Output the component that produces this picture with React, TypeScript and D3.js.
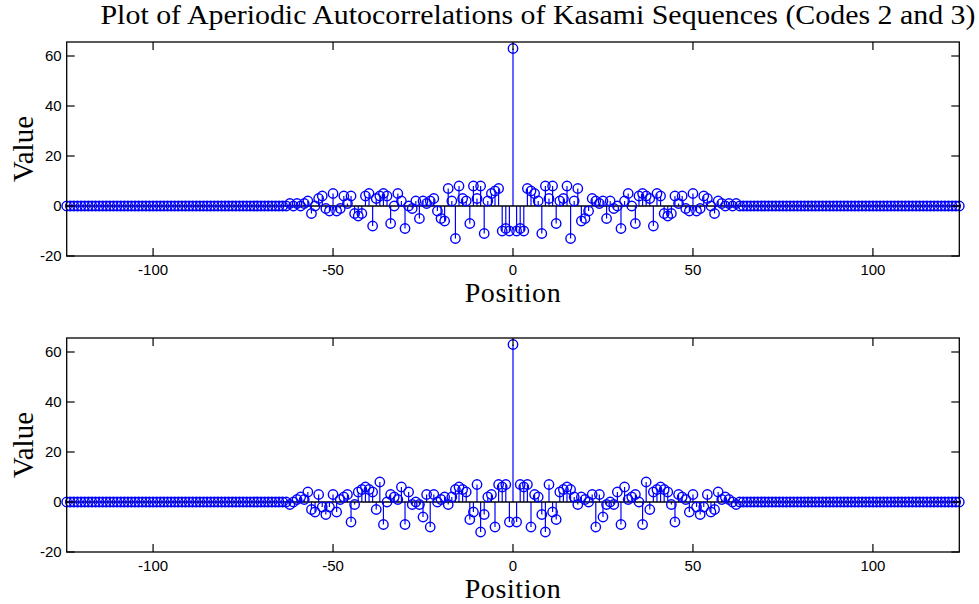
import React from "react";
import { scaleLinear, range } from "d3";

// figure size
const width = 979;
const height = 604;

// autocorrelation values for positive lags 1..62 (symmetric about lag 0)
const peakValue = 63;
const code2Lags = [
  -10, -9, -10, 7, 6, 5, 2, -11, 8, 3, 8, -7, 2, 3, 8, -13, 2, 7, -6, -5,
  -2, 3, 2, 1, 2, -5, 2, -1, 0, -9, 2, 5, 0, -7, 4, 5, 4, 3, -8, 5,
  4, -3, -4, -3, 4, 1, 4, -1, -2, 5, -2, -1, 4, 3, 0, -3, 2, 1, 0, 1,
  0, 1,
];
const code3Lags = [
  -8, 7, 6, 7, -10, 3, 2, -5, -12, 7, -4, -7, 4, 5, 6, 5, 2, -1, 2, 1,
  0, 3, -10, 3, -6, -1, 0, -1, 4, -9, 6, 1, 2, 3, 0, -9, 8, -3, 4, 5,
  6, 5, 4, -1, -8, 3, 2, 1, -4, 3, -2, -5, -2, 3, -4, -3, 4, 1, 2, 1,
  0, -1,
];

const xTicks = [-100, -50, 0, 50, 100];
const yTicks = [-20, 0, 20, 40, 60];
const xDomain = [-124, 124];
const yDomain = [-20, 65.6];

const title =
  "Plot of Aperiodic Autocorrelations of Kasami Sequences (Codes 2 and 3)";

// build full lag series -124..124 (zero outside the sequence length)
const buildSeries = (lags: number[]) =>
  range(xDomain[0], xDomain[1] + 1).map((k) => {
    const a = Math.abs(k);
    const v = a === 0 ? peakValue : a <= lags.length ? lags[a - 1] : 0;
    return { k, v };
  });

const panels = [
  { data: buildSeries(code2Lags), top: 42, bottom: 256 },
  { data: buildSeries(code3Lags), top: 338, bottom: 552 },
];

const left = 66.7;
const right = 959.3;
const tickLen = 8;
const blue = "#0000ff";
const sans = "'Liberation Sans', Arial, sans-serif";
const serif = "'Liberation Serif', 'Times New Roman', serif";

const StemPanel = ({ data, top, bottom }) => {
  const x = scaleLinear().domain(xDomain).range([left, right]);
  const y = scaleLinear().domain(yDomain).range([bottom, top]);
  const y0 = y(0);
  return (
    <g>
      {/* stems */}
      {data.map((d) => (
        <line
          key={"s" + d.k}
          x1={x(d.k)}
          x2={x(d.k)}
          y1={y0}
          y2={y(d.v)}
          stroke={blue}
          strokeWidth={1.2}
        />
      ))}
      {/* baseline */}
      <line x1={left} x2={right} y1={y0} y2={y0} stroke="#000" strokeWidth={1.6} />
      {/* markers */}
      {data.map((d) => (
        <circle
          key={"c" + d.k}
          cx={x(d.k)}
          cy={y(d.v)}
          r={4.7}
          fill="none"
          stroke={blue}
          strokeWidth={1.4}
        />
      ))}
      {/* box */}
      <rect
        x={left}
        y={top}
        width={right - left}
        height={bottom - top}
        fill="none"
        stroke="#000"
        strokeWidth={1.3}
      />
      {/* x ticks */}
      {xTicks.map((t) => (
        <g key={"x" + t}>
          <line x1={x(t)} x2={x(t)} y1={bottom} y2={bottom - tickLen} stroke="#000" strokeWidth={1.2} />
          <line x1={x(t)} x2={x(t)} y1={top} y2={top + tickLen} stroke="#000" strokeWidth={1.2} />
          <text
            x={x(t)}
            y={bottom + 19}
            textAnchor="middle"
            fontFamily={sans}
            fontSize={15}
          >
            {t}
          </text>
        </g>
      ))}
      {/* y ticks */}
      {yTicks.map((t) => (
        <g key={"y" + t}>
          <line x1={left} x2={left + tickLen} y1={y(t)} y2={y(t)} stroke="#000" strokeWidth={1.2} />
          <line x1={right} x2={right - tickLen} y1={y(t)} y2={y(t)} stroke="#000" strokeWidth={1.2} />
          <text
            x={left - 5}
            y={y(t)}
            dy="0.36em"
            textAnchor="end"
            fontFamily={sans}
            fontSize={15}
          >
            {t}
          </text>
        </g>
      ))}
      <text
        x={(left + right) / 2}
        y={bottom + 46}
        textAnchor="middle"
        fontFamily={serif}
        fontSize={28}
        letterSpacing={0.6}
      >
        Position
      </text>
      <text
        transform={`translate(${33},${(top + bottom) / 2}) rotate(-90)`}
        textAnchor="middle"
        fontFamily={serif}
        fontSize={29}
      >
        Value
      </text>
    </g>
  );
};

export default function App() {
  return (
    <svg
      width={width}
      height={height}
      style={{ position: "absolute", left: 0, top: 0, background: "#fff" }}
    >
      <text
        x={538}
        y={24}
        textAnchor="middle"
        fontFamily={serif}
        fontSize={27}
        textLength={875}
        lengthAdjust="spacingAndGlyphs"
      >
        {title}
      </text>
      {panels.map((p, i) => (
        <StemPanel key={i} data={p.data} top={p.top} bottom={p.bottom} />
      ))}
    </svg>
  );
}
